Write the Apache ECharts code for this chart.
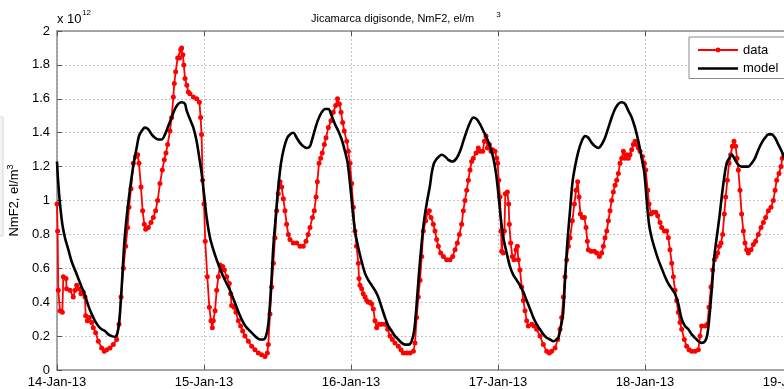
<!DOCTYPE html>
<html>
<head>
<meta charset="utf-8">
<script src="https://cdn.jsdelivr.net/npm/echarts@6/dist/echarts.min.js"></script>
<style>html,body{margin:0;padding:0;background:#fff;}#c{width:784px;height:389px;}</style>
</head>
<body>
<div id="c"></div>
<script>
// x values in hours since 14-Jan-13 00:00, y values in units of 1e12 el/m^3
const xTickLabels = ['14-Jan-13','15-Jan-13','16-Jan-13','17-Jan-13','18-Jan-13','19-Jan-13'];
const yTickLabels = ['0','0.2','0.4','0.6','0.8','1','1.2','1.4','1.6','1.8','2'];

const dataHours = [0,0.1,0.21,0.49,0.87,1.03,1.47,1.57,2.12,2.66,2.94,3.21,3.59,3.91,4.3,4.57,4.68,4.95,5.28,5.66,5.93,6.31,6.74,7.29,7.72,8.1,8.65,9.19,9.74,10.12,10.45,10.83,11.21,11.53,11.75,12.08,12.46,12.84,13.17,13.38,13.71,13.98,14.25,14.47,14.91,15.34,15.72,16.1,16.43,16.81,17.19,17.52,17.79,18.06,18.44,18.72,18.99,19.15,19.37,19.7,20.0,20.2,20.35,20.55,20.7,20.9,21.2,21.44,21.7,22.26,22.8,23.24,23.45,23.6,23.78,24.0,24.2,24.54,24.87,25.14,25.36,25.52,25.8,26.07,26.34,26.61,27.05,27.32,27.7,28.13,28.35,28.51,28.9,29.22,29.6,29.98,30.31,30.69,31.24,31.78,32.32,32.87,33.41,33.96,34.34,34.5,34.77,35.05,35.32,35.59,35.86,36.13,36.41,36.68,36.95,37.22,37.49,37.77,38.04,38.58,39.13,39.67,40.2,40.65,41.0,41.3,41.7,42.0,42.3,42.5,42.78,43.05,43.3,43.65,43.92,44.3,44.73,45.1,45.5,45.8,46.1,46.37,46.64,46.9,47.3,47.56,47.84,48.1,48.38,48.65,48.9,49.2,49.3,49.47,49.74,50.0,50.3,50.56,50.83,51.1,51.37,51.65,51.92,52.19,52.57,53.0,53.55,53.99,54.37,54.75,55.18,55.73,56.16,56.54,57.09,57.63,58.18,58.45,58.72,58.99,59.27,59.54,59.81,60.19,60.52,60.79,61.06,61.44,61.71,61.99,62.26,62.64,63.08,63.62,64.17,64.6,64.98,65.36,65.69,66.07,66.34,66.61,66.89,67.16,67.43,67.7,67.97,68.41,68.79,69.06,69.5,69.77,70.04,70.26,70.59,70.86,71.13,71.51,71.78,71.95,72.11,72.33,72.49,72.6,72.87,73.04,73.2,73.53,73.74,73.85,74.07,74.34,74.61,74.94,75.16,75.32,75.59,75.87,76.14,76.41,76.68,76.95,77.5,77.88,78.31,78.86,79.4,79.95,80.38,80.76,81.31,81.75,82.13,82.4,82.67,82.94,83.21,83.49,83.76,84.14,84.47,84.74,85.01,85.23,85.45,85.77,86.1,86.37,86.59,86.75,87.19,87.73,88.11,88.55,88.93,89.2,89.47,89.75,90.02,90.29,90.56,90.83,91.11,91.38,91.65,91.92,92.2,92.47,92.74,93.01,93.28,93.55,93.83,94.1,94.37,94.64,94.92,95.19,95.57,95.9,96.11,96.44,96.66,96.98,97.36,97.75,98.07,98.45,98.72,99.16,99.54,99.81,100.08,100.36,100.63,100.9,101.17,101.44,101.72,101.99,102.42,102.8,103.19,103.62,104.17,104.71,104.98,105.25,105.8,106.18,106.45,106.78,107.05,107.32,107.59,107.87,108.14,108.41,108.68,108.95,109.17,109.44,109.72,109.99,110.26,110.53,110.8,111.02,111.24,111.51,111.78,112.06,112.33,112.6,112.87,113.31,113.69,114.07,114.5,114.94,115.32,115.7,116.14,116.57,116.95,117.23,117.5,117.88,118.21,118.42,118.7];
const dataValues = [0.98,0.82,0.47,0.35,0.34,0.55,0.54,0.48,0.47,0.43,0.47,0.50,0.48,0.45,0.46,0.43,0.32,0.29,0.31,0.28,0.25,0.22,0.17,0.13,0.11,0.12,0.13,0.15,0.18,0.27,0.43,0.60,0.73,0.84,0.96,1.07,1.22,1.26,1.27,1.22,1.08,0.94,0.86,0.83,0.84,0.87,0.90,0.94,1.00,1.10,1.18,1.24,1.28,1.33,1.41,1.49,1.61,1.69,1.76,1.84,1.84,1.89,1.90,1.86,1.80,1.72,1.68,1.64,1.63,1.61,1.60,1.58,1.49,1.39,1.12,0.98,0.76,0.55,0.37,0.29,0.25,0.29,0.35,0.47,0.55,0.62,0.61,0.59,0.55,0.51,0.45,0.38,0.37,0.34,0.29,0.26,0.23,0.20,0.17,0.14,0.12,0.10,0.09,0.08,0.10,0.15,0.33,0.49,0.63,0.78,0.94,1.04,1.11,1.08,1.01,0.94,0.86,0.80,0.77,0.75,0.75,0.73,0.73,0.76,0.80,0.84,0.90,0.94,1.02,1.11,1.22,1.25,1.28,1.33,1.37,1.43,1.47,1.52,1.56,1.60,1.57,1.52,1.46,1.41,1.35,1.29,1.22,1.10,0.96,0.82,0.73,0.63,0.54,0.50,0.48,0.45,0.43,0.41,0.40,0.40,0.39,0.36,0.29,0.25,0.27,0.27,0.27,0.24,0.20,0.18,0.16,0.14,0.12,0.10,0.10,0.10,0.11,0.16,0.31,0.43,0.53,0.67,0.82,0.88,0.93,0.94,0.90,0.86,0.82,0.77,0.73,0.69,0.67,0.65,0.65,0.67,0.71,0.75,0.80,0.86,0.94,1.00,1.06,1.12,1.18,1.23,1.25,1.28,1.31,1.29,1.29,1.35,1.38,1.31,1.33,1.29,1.30,1.29,1.25,1.22,1.12,1.02,0.82,0.70,0.69,0.82,1.04,1.05,0.98,0.86,0.75,0.67,0.65,0.71,0.73,0.65,0.59,0.49,0.41,0.35,0.29,0.26,0.27,0.26,0.24,0.20,0.15,0.11,0.10,0.11,0.13,0.18,0.24,0.31,0.43,0.55,0.65,0.73,0.78,0.88,0.98,1.06,1.11,1.02,0.92,0.90,0.90,0.84,0.76,0.71,0.70,0.70,0.69,0.67,0.69,0.73,0.78,0.82,0.88,0.94,1.00,1.05,1.09,1.12,1.16,1.22,1.25,1.29,1.25,1.27,1.25,1.27,1.30,1.33,1.35,1.33,1.31,1.29,1.26,1.22,1.18,1.06,0.98,0.92,0.93,0.93,0.91,0.87,0.84,0.82,0.82,0.78,0.71,0.63,0.55,0.47,0.41,0.34,0.28,0.24,0.18,0.14,0.12,0.11,0.11,0.12,0.20,0.26,0.26,0.27,0.37,0.49,0.59,0.65,0.67,0.69,0.73,0.75,0.80,0.92,1.02,1.12,1.22,1.27,1.32,1.35,1.32,1.25,1.18,1.06,0.92,0.82,0.75,0.71,0.69,0.71,0.74,0.76,0.80,0.84,0.87,0.90,0.94,0.96,1.00,1.06,1.12,1.16,1.20,1.25,1.27];

const modelHours = [0,0.21,0.49,0.87,1.3,1.85,2.39,2.94,3.48,4.02,4.57,5.11,5.66,6.2,6.74,7.29,7.83,8.38,8.92,9.47,9.79,10.12,10.39,10.66,10.99,11.37,11.75,12.19,12.62,13.0,13.38,13.82,14.36,14.91,15.45,16.0,16.54,17.08,17.63,18.17,18.72,19.26,19.8,20.35,20.89,21.17,21.71,22.26,22.8,23.24,23.62,24.0,24.43,24.98,25.52,26.07,26.61,27.15,27.7,28.24,28.79,29.33,29.88,30.42,30.96,31.51,32.05,32.6,33.14,33.68,34.12,34.5,34.77,35.05,35.32,35.7,36.13,36.57,37.06,37.6,38.04,38.58,39.13,39.67,40.2,40.76,41.3,41.58,42.12,42.67,43.21,43.76,44.3,44.84,45.39,45.93,46.48,47.02,47.46,47.84,48.22,48.65,49.2,49.74,50.29,50.83,51.37,51.92,52.46,53.0,53.55,54.09,54.64,55.18,55.73,56.27,56.82,57.36,57.9,58.34,58.72,59.1,59.54,59.92,60.35,60.9,61.17,61.55,62.1,62.8,63.35,63.89,64.6,65.25,65.8,66.34,66.89,67.43,67.97,68.52,69.06,69.61,70.15,70.7,71.24,71.68,72.06,72.44,72.87,73.42,73.96,74.51,75.05,75.59,76.14,76.68,77.23,77.77,78.31,78.86,79.4,79.95,80.49,81.04,81.58,81.85,82.12,82.62,82.94,83.32,83.76,84.14,84.58,85.12,85.66,86.21,86.75,87.3,87.84,88.38,88.93,89.47,90.02,90.56,91.11,91.65,92.2,92.74,93.28,93.83,94.37,94.92,95.46,95.9,96.28,96.66,97.09,97.64,98.18,98.72,99.27,99.81,100.36,100.9,101.44,101.99,102.53,103.08,103.62,104.17,104.71,105.25,105.8,106.18,106.51,106.89,107.32,107.7,108.14,108.52,108.95,109.34,109.77,110.15,110.42,110.7,111.24,111.78,112.33,112.87,113.42,113.96,114.51,115.05,115.6,116.14,116.69,117.23,117.77,118.31,118.7];
const modelValues = [1.23,1.10,0.98,0.86,0.78,0.71,0.64,0.59,0.54,0.49,0.44,0.38,0.33,0.29,0.26,0.24,0.23,0.21,0.20,0.196,0.21,0.27,0.39,0.55,0.75,0.90,1.02,1.14,1.24,1.31,1.38,1.41,1.43,1.42,1.39,1.37,1.36,1.36,1.39,1.44,1.49,1.54,1.57,1.58,1.57,1.53,1.48,1.43,1.35,1.25,1.16,1.04,0.90,0.78,0.71,0.65,0.60,0.55,0.51,0.47,0.42,0.37,0.32,0.28,0.25,0.23,0.21,0.19,0.18,0.18,0.20,0.27,0.39,0.55,0.73,0.90,1.08,1.22,1.31,1.37,1.39,1.40,1.37,1.34,1.32,1.31,1.32,1.35,1.42,1.48,1.52,1.54,1.54,1.50,1.45,1.41,1.36,1.29,1.22,1.10,0.96,0.82,0.72,0.64,0.57,0.53,0.50,0.47,0.43,0.37,0.31,0.26,0.23,0.20,0.18,0.16,0.15,0.15,0.17,0.24,0.39,0.57,0.75,0.88,0.98,1.09,1.16,1.22,1.25,1.27,1.26,1.24,1.23,1.25,1.29,1.35,1.41,1.46,1.49,1.48,1.45,1.41,1.37,1.32,1.25,1.16,1.04,0.90,0.78,0.69,0.61,0.56,0.53,0.50,0.46,0.41,0.36,0.31,0.27,0.24,0.21,0.19,0.18,0.17,0.18,0.19,0.23,0.33,0.53,0.75,0.94,1.10,1.20,1.29,1.35,1.38,1.37,1.34,1.32,1.31,1.33,1.37,1.43,1.49,1.54,1.57,1.58,1.57,1.53,1.49,1.43,1.35,1.25,1.16,1.00,0.86,0.78,0.71,0.65,0.60,0.55,0.51,0.48,0.45,0.39,0.30,0.26,0.24,0.21,0.19,0.17,0.16,0.17,0.21,0.31,0.47,0.67,0.78,0.90,1.02,1.14,1.22,1.25,1.27,1.26,1.24,1.21,1.20,1.20,1.20,1.22,1.25,1.30,1.34,1.37,1.39,1.39,1.37,1.33,1.29,1.25];

const zip = (a, b) => a.map((v, i) => [v, b[i]]);
const FONT = '"Liberation Sans", Arial, Helvetica, sans-serif';
const axisGrey = '#8c8c8c';

const chart = echarts.init(document.getElementById('c'), null, {renderer: 'canvas'});
chart.setOption({
  animation: false,
  backgroundColor: '#fff',
  textStyle: {fontFamily: FONT},
  title: {
    text: '{m|Jicamarca digisonde, NmF2, el/m}{s|3}',
    left: 306, top: 6,
    textStyle: {
      fontWeight: 'normal',
      rich: {
        m: {fontSize: 11, fontFamily: FONT, fontWeight: 'normal', color: '#000', lineHeight: 16},
        s: {fontSize: 8, fontFamily: FONT, fontWeight: 'normal', color: '#000', verticalAlign: 'top', padding: [0,0,0,22]}
      }
    }
  },
  graphic: [
    {type: 'text', left: 57, top: 13, style: {text: 'x 10', font: '13px ' + FONT, fill: '#000'}},
    {type: 'text', left: 82, top: 9, style: {text: '12', font: '8px ' + FONT, fill: '#000'}},
    {type: 'rect', shape: {x: -6, y: 117, width: 9, height: 119}, style: {fill: '#f4f4f4', stroke: '#d6d6d6', lineWidth: 1}}
  ],
  legend: {
    orient: 'vertical',
    left: 689, top: 37,
    padding: [6, 60, 3, 8],
    itemWidth: 40, itemHeight: 6, itemGap: 4.5,
    backgroundColor: '#fff',
    borderColor: '#8a8a8a', borderWidth: 1, borderRadius: 0,
    textStyle: {fontSize: 13, fontFamily: FONT, color: '#000', lineHeight: 14},
    data: [
      {name: 'data'},
      {name: 'model', icon: 'path://M0,0h40v2.5h-40z'}
    ]
  },
  grid: {left: 57, top: 31, right: -8, bottom: 19, containLabel: false, outerBoundsMode: 'none'},
  xAxis: [{
    type: 'value', min: 0, max: 120, interval: 24,
    axisLine: {show: true, lineStyle: {color: axisGrey, width: 1.5}},
    axisTick: {show: true, inside: true, length: 5, lineStyle: {color: '#555'}},
    axisLabel: {show: true, showMaxLabel: true, showMinLabel: true, margin: 6, fontSize: 13, color: '#000', fontFamily: FONT,
      formatter: v => xTickLabels[Math.round(v / 24)] || ''},
    splitLine: {show: true, lineStyle: {color: '#c4c4c4', type: [2, 2], width: 1}}
  }, {
    type: 'value', position: 'top', min: 0, max: 120, interval: 24,
    axisLine: {show: true, lineStyle: {color: axisGrey, width: 1.5}},
    axisTick: {show: true, inside: true, length: 5, lineStyle: {color: '#555'}},
    axisLabel: {show: false},
    splitLine: {show: false}
  }],
  yAxis: [{
    type: 'value', min: 0, max: 2, interval: 0.2,
    name: '{n|NmF2, el/m}{s|3}',
    nameLocation: 'middle', nameGap: 31, nameRotate: 90,
    nameTextStyle: {
      rich: {
        n: {fontSize: 13, fontFamily: FONT, color: '#000', lineHeight: 18},
        s: {fontSize: 9, fontFamily: FONT, color: '#000', verticalAlign: 'top'}
      }
    },
    axisLine: {show: true, lineStyle: {color: axisGrey, width: 1.5}},
    axisTick: {show: true, inside: true, length: 5, lineStyle: {color: '#555'}},
    axisLabel: {fontSize: 13, color: '#000', margin: 7, fontFamily: FONT,
      formatter: v => yTickLabels[Math.round(v / 0.2)]},
    splitLine: {show: true, lineStyle: {color: '#c4c4c4', type: [2, 2], width: 1}}
  }],
  series: [{
    name: 'data', type: 'line',
    data: zip(dataHours, dataValues),
    symbol: 'circle', symbolSize: 5, showAllSymbol: true,
    itemStyle: {color: '#ff0000'},
    lineStyle: {color: '#ff0000', width: 1.8},
    z: 2
  }, {
    name: 'model', type: 'line',
    data: zip(modelHours, modelValues),
    symbol: 'none', smooth: 0.3,
    itemStyle: {color: '#000'},
    lineStyle: {color: '#000', width: 2.6},
    z: 3
  }]
});
</script>
</body>
</html>
